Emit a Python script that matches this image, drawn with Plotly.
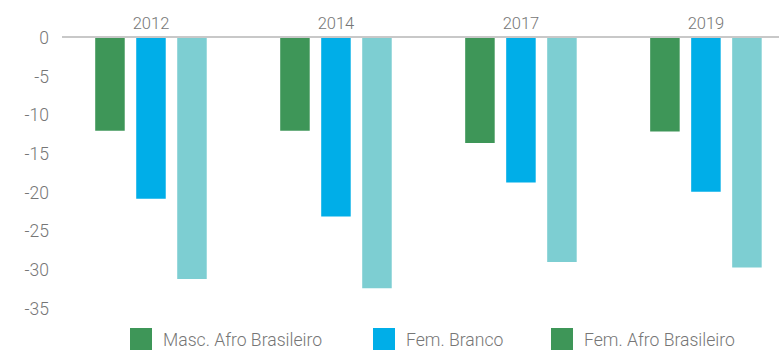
import plotly.graph_objects as go

# Years shown along the top axis
years = ["2012", "2014", "2017", "2019"]

# Series values (percentage differences)
masc_afro = [-12.0, -12.0, -13.6, -12.1]
fem_branco = [-20.8, -23.1, -18.7, -19.9]
fem_afro = [-31.2, -32.4, -29.0, -29.7]

series_names = ["Masc. Afro Brasileiro", "Fem. Branco", "Fem. Afro Brasileiro"]
bar_colors = ["#3e9658", "#00aee8", "#7dced2"]
legend_colors = ["#3e9658", "#00aee8", "#3e9658"]

y_ticks = [0, -5, -10, -15, -20, -25, -30, -35]

FONT = "Roboto"
TEXT_COLOR = "#767676"

fig = go.Figure()
for name, vals, col in zip(series_names, [masc_afro, fem_branco, fem_afro], bar_colors):
    fig.add_trace(go.Bar(x=years, y=vals, name=name, marker=dict(color=col, line=dict(width=0)),
                         showlegend=False))

# Legend drawn as swatches plus labels below the plot
legend_x = [130, 373, 551]
shapes = []
annotations = []
W, H = 779, 350
PLOT_TOP, PLOT_BOTTOM, PLOT_LEFT = 38, 320, 62
ph = PLOT_BOTTOM - PLOT_TOP
pw = W - PLOT_LEFT
for lx, name, col in zip(legend_x, series_names, legend_colors):
    shapes.append(dict(type="rect", xref="paper", yref="paper",
                       x0=(lx - PLOT_LEFT) / pw, x1=(lx + 22 - PLOT_LEFT) / pw,
                       y0=-(328 - PLOT_BOTTOM) / ph, y1=-(350 - PLOT_BOTTOM) / ph,
                       fillcolor=col, line=dict(width=0)))
    annotations.append(dict(xref="paper", yref="paper", x=(lx + 31 - PLOT_LEFT) / pw,
                            y=-(340 - PLOT_BOTTOM) / ph, text=name, showarrow=False,
                            xanchor="left", yanchor="middle",
                            font=dict(family=FONT, size=17.6, color=TEXT_COLOR, weight=300)))

fig.update_layout(
    width=W, height=H,
    margin=dict(l=PLOT_LEFT, r=0, t=PLOT_TOP, b=H - PLOT_BOTTOM),
    paper_bgcolor="white", plot_bgcolor="white",
    barmode="group", bargap=0.335, bargroupgap=0.28,
    showlegend=False,
    shapes=shapes, annotations=annotations,
    font=dict(family=FONT, size=16, color=TEXT_COLOR),
    xaxis=dict(side="top", type="category", range=[-0.481, 3.395],
               showline=True, linecolor="#c8c8c8", linewidth=2,
               showgrid=False, ticks="", zeroline=False,
               tickfont=dict(family=FONT, size=16.5, color=TEXT_COLOR, weight=300)),
    yaxis=dict(range=[-36.5, 0], tickvals=y_ticks, ticktext=[str(v) for v in y_ticks],
               showgrid=False, zeroline=False, showline=False, ticks="",
               ticklabelstandoff=12,
               tickfont=dict(family=FONT, size=17.5, color=TEXT_COLOR, weight=300)),
)

fig.write_html("out.html")
